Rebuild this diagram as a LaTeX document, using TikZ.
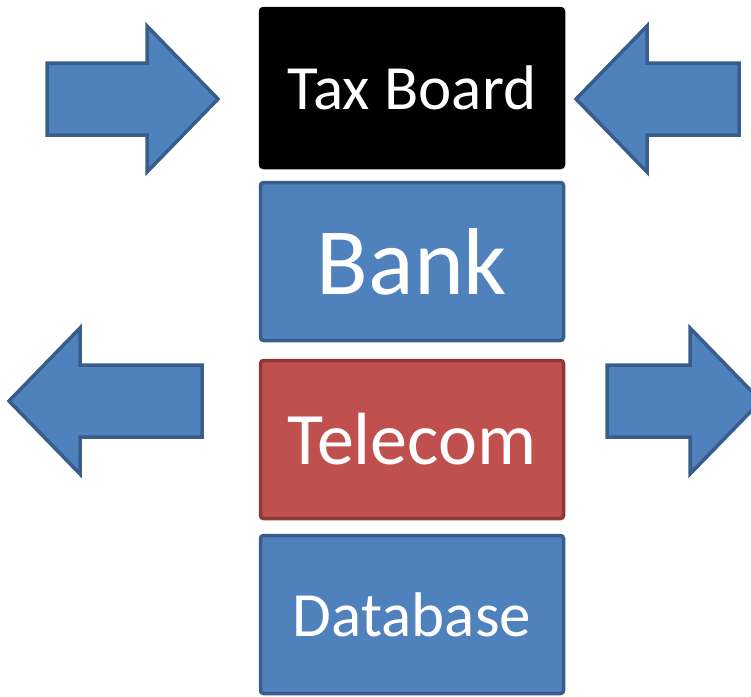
\documentclass[tikz,border=0pt]{standalone}
\usepackage{fontspec}
\setmainfont{Carlito}
\definecolor{bfill}{HTML}{4F81BD}
\definecolor{bline}{HTML}{385D8A}
\definecolor{rfill}{HTML}{C0504D}
\definecolor{rline}{HTML}{8C3836}
\tikzset{
  box/.style={rectangle, rounded corners=3pt, line width=3.5pt, minimum width=303pt, text=white, inner sep=0pt},
  bluebox/.style={box, fill=bfill, draw=bline},
  fatarrow/.style={fill=bfill, draw=bline, line width=3.5pt, line join=miter},
}
\begin{document}
\begin{tikzpicture}[x=1pt,y=-1pt]
\useasboundingbox (0,0) rectangle (751,696);
\clip (0,0) rectangle (751,696);
% boxes
\node[box, fill=black, draw=black, minimum height=159pt, font=\fontsize{63}{70}\selectfont] (tax) at (412,88) {Tax Board};
\node[bluebox, minimum height=158pt, font=\fontsize{95}{100}\selectfont] (bank) at (412,261.5) {Bank};
\node[box, fill=rfill, draw=rline, minimum height=158pt, font=\fontsize{74}{80}\selectfont] (tel) at (412,439.5) {Telecom};
\node[bluebox, minimum height=158pt, font=\fontsize{63}{70}\selectfont] (db) at (412,614.5) {Database};
% arrows
\draw[fatarrow] (47,63) -- (147,63) -- (147,26) -- (218,99) -- (147,172) -- (147,135) -- (47,135) -- cycle;
\draw[fatarrow] (739,63) -- (647,63) -- (647,26) -- (576,99) -- (647,172) -- (647,135) -- (739,135) -- cycle;
\draw[fatarrow] (202,365) -- (80,365) -- (80,328) -- (9,401) -- (80,474) -- (80,437) -- (202,437) -- cycle;
\draw[fatarrow] (607,365) -- (690,365) -- (690,328) -- (761,401) -- (690,474) -- (690,437) -- (607,437) -- cycle;
\end{tikzpicture}
\end{document}
